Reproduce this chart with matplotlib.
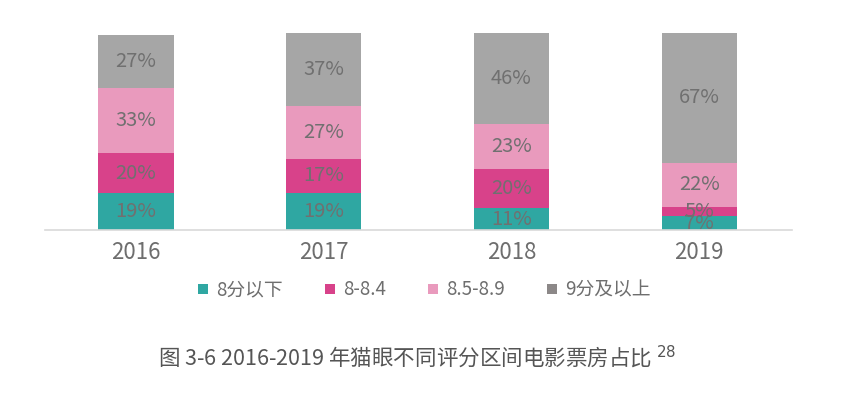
import matplotlib
matplotlib.use("Agg")
import matplotlib.pyplot as plt
import numpy as np
from matplotlib.lines import Line2D

plt.rcParams["font.family"] = ["Noto Sans CJK SC", "DejaVu Sans"]

# datos (%)
years = ["2016", "2017", "2018", "2019"]
series_names = ["8分以下", "8-8.4", "8.5-8.9", "9分及以上"]
below_8 = [19, 19, 11, 7]
from_8_to_84 = [20, 17, 20, 5]
from_85_to_89 = [33, 27, 23, 22]
from_9_up = [27, 37, 46, 67]
caption = "图 3-6 2016-2019 年猫眼不同评分区间电影票房占比 $^{28}$"

colors = ["#2fa7a2", "#d8428a", "#e99abd", "#a6a6a6"]


def main():
    fig = plt.figure(figsize=(8.49, 4.2), dpi=100)
    fig.patch.set_facecolor("white")
    ax = fig.add_axes([0.053, 0.452, 0.88, 0.469])

    x = np.arange(len(years))
    series = [below_8, from_8_to_84, from_85_to_89, from_9_up]
    bottom = np.zeros(len(years))
    for vals, col in zip(series, colors):
        vals = np.array(vals, dtype=float)
        ax.bar(x, vals, width=0.40, bottom=bottom, color=col, linewidth=0)
        for xi, b, v in zip(x, bottom, vals):
            ax.text(xi, b + v / 2, f"{int(v)}%", ha="center", va="center",
                    fontsize=14.5, color="#707070")
        bottom += vals

    ax.set_xlim(-0.485, 3.495)
    ax.set_ylim(0, 100)
    ax.set_xticks(x)
    ax.set_xticklabels(years, fontsize=16, color="#6e6e6e")
    ax.tick_params(axis="x", length=0, pad=8)
    ax.set_yticks([])
    for s in ["top", "right", "left"]:
        ax.spines[s].set_visible(False)
    ax.spines["bottom"].set_color("#d9d9d9")
    ax.spines["bottom"].set_linewidth(1.2)

    handles = [Line2D([0], [0], marker="s", linestyle="", markersize=7,
                      markerfacecolor=c, markeredgewidth=0) for c in colors[:3]]
    handles.append(Line2D([0], [0], marker="s", linestyle="", markersize=7,
                          markerfacecolor="#8c8888", markeredgewidth=0))
    leg = fig.legend(handles, series_names, loc="center", ncol=4,
                     bbox_to_anchor=(0.497, 0.31), frameon=False,
                     fontsize=13.5, handletextpad=0.2, columnspacing=2.0,
                     handlelength=1.0)
    for t in leg.get_texts():
        t.set_color("#6e6e6e")

    fig.text(0.491, 0.15, caption, ha="center", va="center",
             fontsize=15.5, color="#555555", fontweight="medium")

    fig.savefig("out.png", dpi=100, facecolor="white")


if __name__ == "__main__":
    main()
